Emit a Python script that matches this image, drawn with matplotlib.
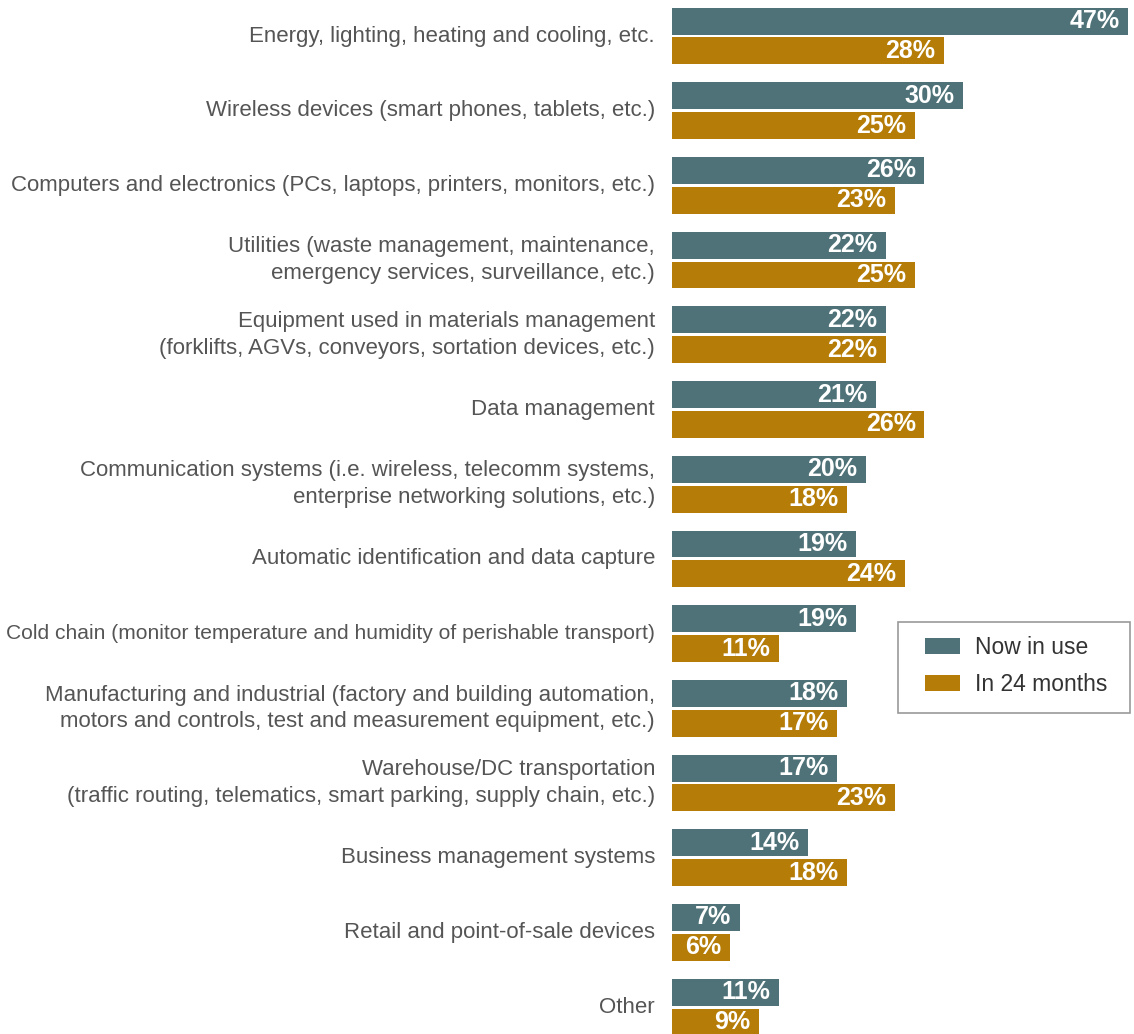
import numpy as np
import matplotlib.pyplot as plt
from matplotlib.patches import Rectangle

categories = [
    'Energy, lighting, heating and cooling, etc.',
    'Wireless devices (smart phones, tablets, etc.)',
    'Computers and electronics (PCs, laptops, printers, monitors, etc.)',
    'Utilities (waste management, maintenance,\nemergency services, surveillance, etc.)',
    'Equipment used in materials management\n(forklifts, AGVs, conveyors, sortation devices, etc.)',
    'Data management',
    'Communication systems (i.e. wireless, telecomm systems,\nenterprise networking solutions, etc.)',
    'Automatic identification and data capture',
    'Cold chain (monitor temperature and humidity of perishable transport)',
    'Manufacturing and industrial (factory and building automation,\nmotors and controls, test and measurement equipment, etc.)',
    'Warehouse/DC transportation\n(traffic routing, telematics, smart parking, supply chain, etc.)',
    'Business management systems',
    'Retail and point-of-sale devices',
    'Other',
]
now_in_use = [47, 30, 26, 22, 22, 21, 20, 19, 19, 18, 17, 14, 7, 11]
in_24_months = [28, 25, 23, 25, 22, 26, 18, 24, 11, 17, 23, 18, 6, 9]

teal = '#4E7277'
gold = '#B57D07'

plt.rcParams['font.family'] = ['Liberation Sans', 'DejaVu Sans']

W, H = 1134, 1034
fig = plt.figure(figsize=(W / 100, H / 100), dpi=100)
ax = fig.add_axes([672 / W, 0, 462 / W, 1])

y = np.arange(len(categories))
h = 0.36
off = 0.2
ax.barh(y - off, now_in_use, height=h, color=teal, label='Now in use')
ax.barh(y + off, in_24_months, height=h, color=gold, label='In 24 months')

ax.set_xlim(0, 462 / 9.71)
ax.set_ylim((H - 36) / 74.7, -36 / 74.7)
ax.axis('off')

for i in range(len(categories)):
    ax.text(now_in_use[i] - 0.9, i - off, '%d%%' % now_in_use[i], ha='right', va='center',
            color='white', fontsize=18, fontweight='bold')
    ax.text(in_24_months[i] - 0.9, i + off, '%d%%' % in_24_months[i], ha='right', va='center',
            color='white', fontsize=18, fontweight='bold')
    fs = 16
    if categories[i].startswith('Cold chain'):
        fs = 15.1
    ax.text(-1.75, i, categories[i], ha='right', va='center', color='#555555',
            fontsize=fs, linespacing=1.35, clip_on=False)

# legend box drawn separately so its padding matches the original
box = Rectangle((898 / W, 1 - 713 / H), 232 / W, 91 / H, transform=fig.transFigure,
                facecolor='white', edgecolor='#999999', linewidth=1.2, zorder=4)
fig.add_artist(box)
leg = fig.legend(loc='upper left', bbox_to_anchor=(925 / W, 1 - 636 / H),
                 fontsize=16.5, frameon=False, handlelength=1.53,
                 handleheight=0.7, borderpad=0, labelspacing=0.6, handletextpad=0.65,
                 borderaxespad=0)
leg.set_zorder(5)
for t in leg.get_texts():
    t.set_color('#333333')

fig.savefig('out.png', dpi=100)
